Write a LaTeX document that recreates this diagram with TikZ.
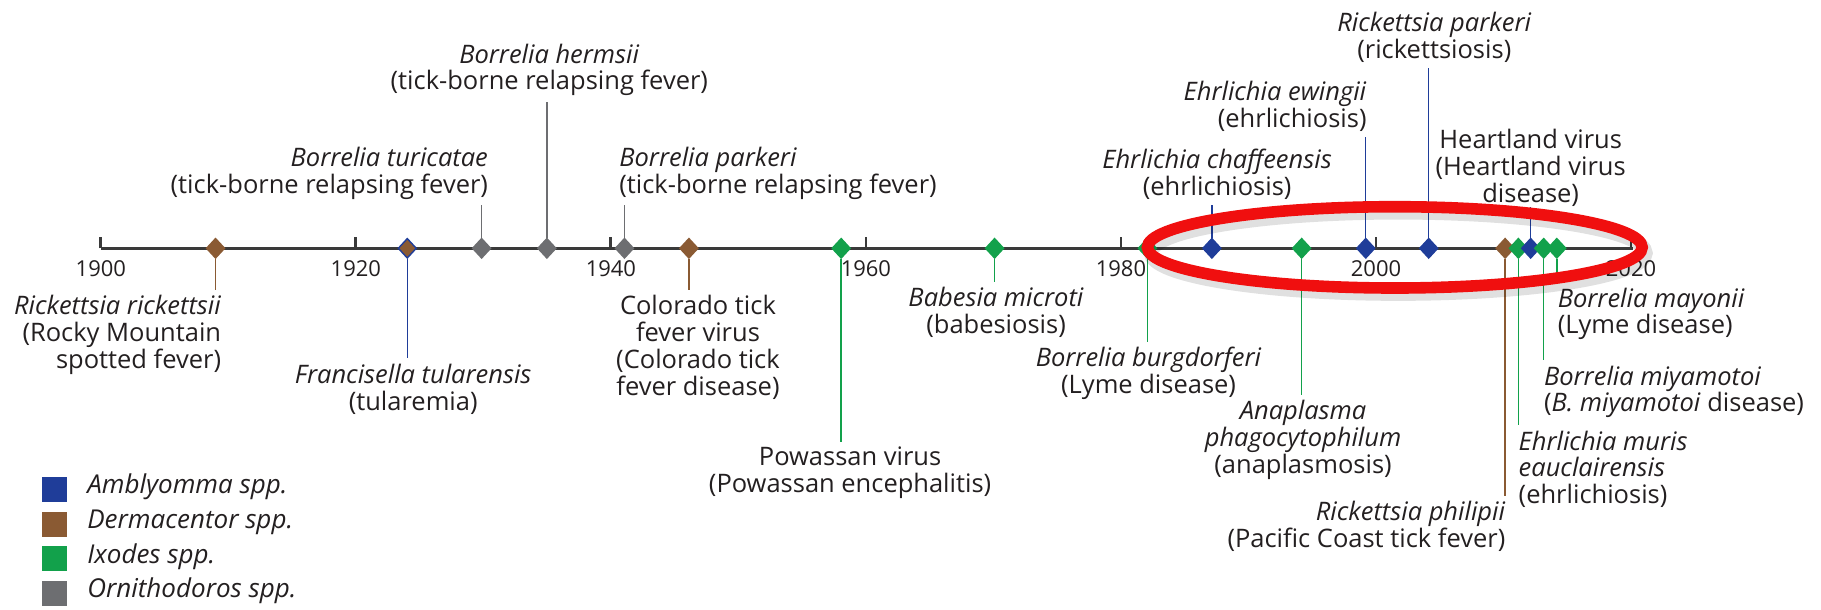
\documentclass[tikz,border=0pt]{standalone}
\usepackage{fontspec}
\setmainfont{Open Sans}
\usepackage{tikz}
\usetikzlibrary{shapes.geometric}
\definecolor{amblc}{HTML}{1F3D99}
\definecolor{dermc}{HTML}{8A5A33}
\definecolor{ixodc}{HTML}{12A14B}
\definecolor{ornic}{HTML}{6D6E71}
\definecolor{axisc}{HTML}{3A3A3A}
\definecolor{txtc}{HTML}{231F20}
\definecolor{ringc}{HTML}{F00F0F}
\tikzset{
  dmd/.style={diamond,inner sep=0pt,minimum width=3.7mm,minimum height=4.0mm,line width=0.8pt},
  cn/.style={line width=0.8pt},
  lbl/.style={font=\fontsize{14.5}{15.2}\selectfont,text=txtc,inner xsep=0pt,inner ysep=3pt},
  yr/.style={font=\fontsize{12.5}{15}\selectfont,text=txtc,inner sep=0pt},
  key/.style={font=\fontsize{14.8}{16}\selectfont\itshape,text=txtc,anchor=west,inner sep=0pt,text height=0.75em,text depth=0.25em},
  sw/.style={minimum size=5mm,inner sep=0pt}
}
\begin{document}
\begin{tikzpicture}[x=0.23227mm,y=-0.23227mm]
\useasboundingbox (0,0) rectangle (1568,525);
% time axis
\coordinate (a0) at (86.8,213.8);
\coordinate (a1) at (1406.3,213.8);
\draw[axisc,line width=1.6pt] (a0)--(a1);
\foreach \yv in {1900,1920,...,2020}{
 \draw[axisc,line width=1.6pt] ({86.8+(\yv-1900)*10.98},213.8)--++(0,-10);
 \node[yr] (y\yv) at ({86.8+(\yv-1900)*10.98},231) {\yv};}
% first reports
\foreach \n/\x/\f/\o in {1/185.6/dermc/dermc,2/350.7/dermc/amblc,3/414.7/ornic/ornic,4/470.9/ornic/ornic,
 5/537.7/ornic/ornic,6/593.2/dermc/dermc,7/724.3/ixodc/ixodc,8/856.4/ixodc/ixodc,9/988/ixodc/ixodc,
 10/1043.5/amblc/amblc,11/1120.8/ixodc/ixodc,12/1176/amblc/amblc,13/1230.2/amblc/amblc,14/1296/dermc/dermc,
 15/1307.4/ixodc/ixodc,16/1318/amblc/amblc,17/1329.2/ixodc/ixodc,18/1340.5/ixodc/ixodc}
 \node[dmd,fill=\f,draw=\o] (d\n) at (\x,213.8) {};
\node[lbl,anchor=north east,align=right] (l1) at (190.7,249.7) {\textit{Rickettsia rickettsii}\\(Rocky Mountain\\spotted fever)};
\node[lbl,anchor=north,align=center] (l2) at (355.8,308.6) {\textit{Francisella tularensis}\\(tularemia)};
\node[lbl,anchor=south east,align=right] (l3) at (420.5,176.5) {\textit{Borrelia turicatae}\\(tick-borne relapsing fever)};
\node[lbl,anchor=south,align=center] (l4) at (473,87.6) {\textit{Borrelia hermsii}\\(tick-borne relapsing fever)};
\node[lbl,anchor=south west,align=left] (l5) at (533,176.5) {\textit{Borrelia parkeri}\\(tick-borne relapsing fever)};
\node[lbl,anchor=north,align=center] (l6) at (601,249.7) {Colorado tick\\fever virus\\(Colorado tick\\fever disease)};
\node[lbl,anchor=north,align=center] (l7) at (732,380.3) {Powassan virus\\(Powassan encephalitis)};
\node[lbl,anchor=north,align=center] (l8) at (857.7,242.5) {\textit{Babesia microti}\\(babesiosis)};
\node[lbl,anchor=north,align=center] (l9) at (989,294.2) {\textit{Borrelia burgdorferi}\\(Lyme disease)};
\node[lbl,anchor=south,align=center] (l10) at (1048,176.5) {\textit{Ehrlichia chaffeensis}\\(ehrlichiosis)};
\node[lbl,anchor=north,align=center] (l11) at (1122,340) {\textit{Anaplasma}\\\textit{phagocytophilum}\\(anaplasmosis)};
\node[lbl,anchor=south east,align=right] (l12) at (1177,117.7) {\textit{Ehrlichia ewingii}\\(ehrlichiosis)};
\node[lbl,anchor=south,align=center] (l13) at (1235,58.8) {\textit{Rickettsia parkeri}\\(rickettsiosis)};
\node[lbl,anchor=north east,align=right] (l14) at (1296.5,427) {\textit{Rickettsia philipii}\\(Pacific Coast tick fever)};
\node[lbl,anchor=north west,align=left] (l15) at (1307.4,366) {\textit{Ehrlichia muris}\\\textit{eauclairensis}\\(ehrlichiosis)};
\node[lbl,anchor=south,align=center,inner ysep=0pt] (l16) at (1318,178) {Heartland virus\\(Heartland virus\\disease)};
\node[lbl,anchor=north west,align=left] (l17) at (1329.2,310) {\textit{Borrelia miyamotoi}\\(\textit{B. miyamotoi} disease)};
\node[lbl,anchor=north west,align=left] (l18) at (1341,243) {\textit{Borrelia mayonii}\\(Lyme disease)};
\foreach \n/\c in {1/dermc,2/amblc,6/dermc,7/ixodc,8/ixodc,9/ixodc,11/ixodc,14/dermc,15/ixodc,17/ixodc,18/ixodc}
 \draw[cn,\c] (d\n) -- (d\n |- l\n.north);
\foreach \n/\c in {3/ornic,4/ornic,5/ornic,10/amblc,12/amblc,13/amblc,16/amblc}
 \draw[cn,\c] (d\n) -- (d\n |- l\n.south);
% highlight
\draw[black,opacity=0.12,line width=8pt] (1204,218) ellipse [x radius=213,y radius=35];
\draw[ringc,line width=6.6pt] (1201,213) ellipse [x radius=213,y radius=35];
% legend
\foreach \n/\c/\t/\yy in {1/amblc/Amblyomma/421.3,2/dermc/Dermacentor/451.2,3/ixodc/Ixodes/481.3,4/ornic/Ornithodoros/510.9}{
 \node[sw,fill=\c] (s\n) at (47,\yy) {};
 \node[key] (k\n) at (74.9,\yy) {\t\ spp.};}
\end{tikzpicture}
\end{document}
